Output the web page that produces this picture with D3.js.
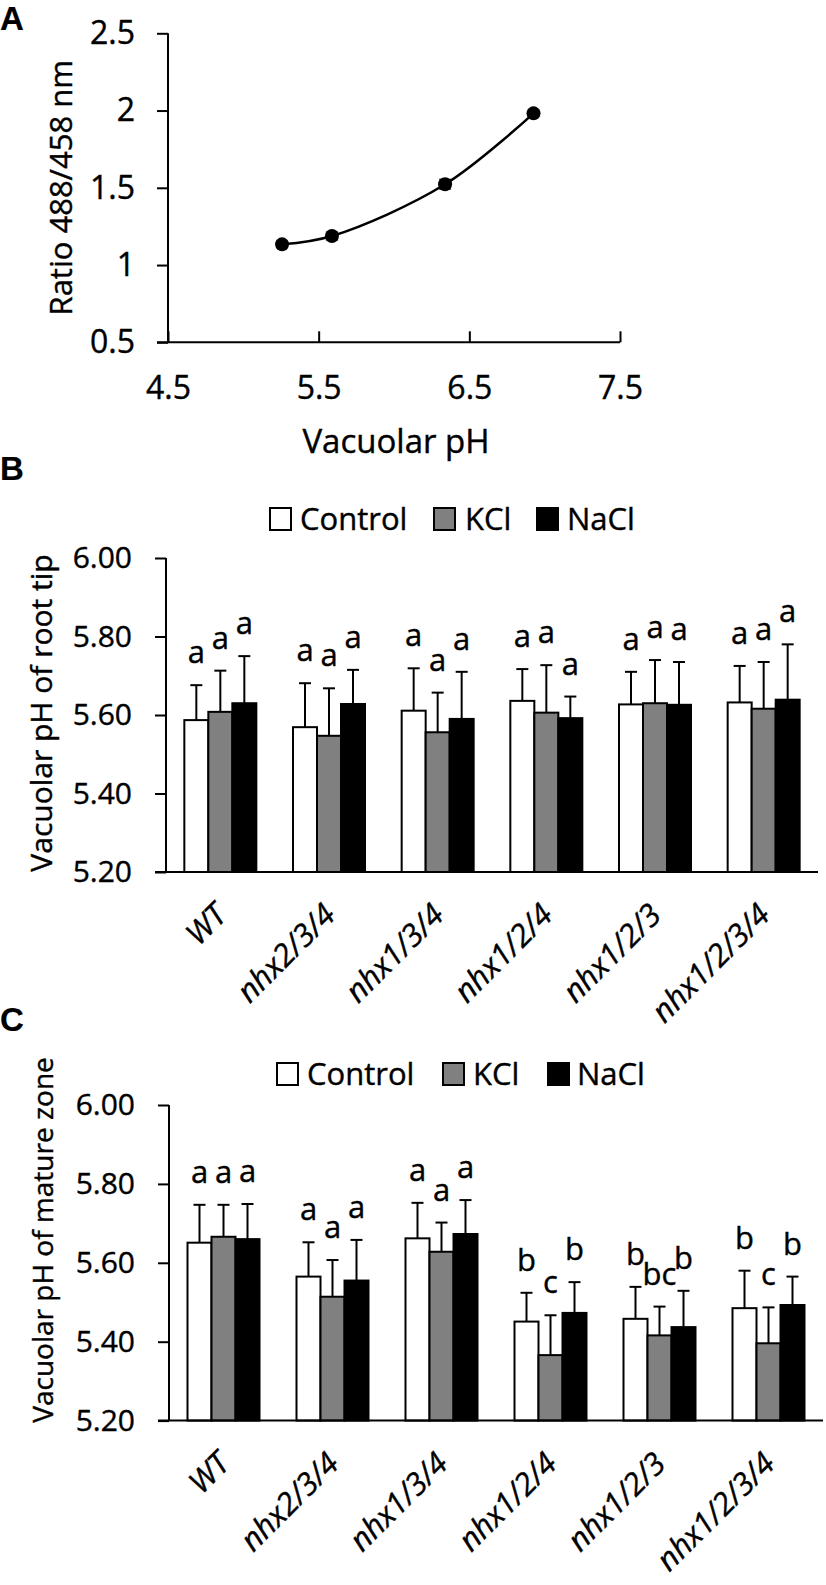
<!DOCTYPE html>
<html>
<head>
<meta charset="utf-8">
<script src="https://cdn.jsdelivr.net/npm/d3@7"></script>
<style>
  body { margin: 0; background: #fff; }
  svg text { font-family: "Open Sans", sans-serif; fill: #000; stroke: #000; stroke-width: 0.4px; }
  svg text.panel-label { font-family: "Liberation Sans", Arial, sans-serif; font-weight: bold; font-size: 33px; stroke-width: 0.2px; }
</style>
</head>
<body>
<svg id="fig" width="826" height="1585"></svg>
<script>
// ---- panel A: calibration curve
const calibPH = [5.257, 5.588, 6.339, 6.926];
const calibRatio = [1.134, 1.188, 1.523, 1.982];
const calibErr = [0.02, 0.025, 0.03, 0.02];
const calibXTicks = [4.5, 5.5, 6.5, 7.5];
const calibYTicks = [0.5, 1, 1.5, 2, 2.5];

// ---- panels B and C
const genotypes = ['WT', 'nhx2/3/4', 'nhx1/3/4', 'nhx1/2/4', 'nhx1/2/3', 'nhx1/2/3/4'];
const treatments = ['Control', 'KCl', 'NaCl'];
const treatColors = ['#ffffff', '#808080', '#000000'];
const phTicks = [5.2, 5.4, 5.6, 5.8, 6.0];

const tipControl = [5.587, 5.569, 5.611, 5.636, 5.627, 5.632];
const tipKCl     = [5.608, 5.547, 5.556, 5.606, 5.630, 5.616];
const tipNaCl    = [5.630, 5.628, 5.590, 5.592, 5.626, 5.639];
const tipControlSD = [0.089, 0.112, 0.108, 0.081, 0.083, 0.093];
const tipKClSD     = [0.105, 0.121, 0.101, 0.121, 0.110, 0.119];
const tipNaClSD    = [0.120, 0.087, 0.120, 0.055, 0.109, 0.141];
const tipControlSig = ['a', 'a', 'a', 'a', 'a', 'a'];
const tipKClSig     = ['a', 'a', 'a', 'a', 'a', 'a'];
const tipNaClSig    = ['a', 'a', 'a', 'a', 'a', 'a'];

const matControl = [5.651, 5.565, 5.662, 5.451, 5.458, 5.485];
const matKCl     = [5.666, 5.514, 5.628, 5.366, 5.416, 5.396];
const matNaCl    = [5.660, 5.555, 5.673, 5.473, 5.437, 5.493];
const matControlSD = [0.096, 0.087, 0.090, 0.073, 0.081, 0.095];
const matKClSD     = [0.081, 0.093, 0.074, 0.101, 0.073, 0.091];
const matNaClSD    = [0.089, 0.103, 0.086, 0.078, 0.092, 0.072];
const matControlSig = ['a', 'a', 'a', 'b', 'b', 'b'];
const matKClSig     = ['a', 'a', 'a', 'c', 'bc', 'c'];
const matNaClSig    = ['a', 'a', 'a', 'b', 'b', 'b'];

const svg = d3.select('#fig');
const FS = 30;

function styleAxis(fs) {
  return g => {
    g.selectAll('.domain').remove();
    g.selectAll('.tick line').attr('stroke', '#000').attr('stroke-width', 2);
    g.selectAll('.tick text').attr('font-size', fs).attr('font-family', '"Open Sans", sans-serif');
  };
}

function panelLabel(g, txt, y) {
  g.append('text').attr('class', 'panel-label').attr('x', 0).attr('y', y).text(txt);
}

// ================= A =================
(function drawA() {
  const x = d3.scaleLinear().domain([4.5, 7.5]).range([168, 620]);
  const y = d3.scaleLinear().domain([0.5, 2.5]).range([342.3, 33.3]);
  const g = svg.append('g');
  const fsA = 32;

  panelLabel(g, 'A', 30);

  g.append('g').attr('transform', `translate(${x(4.5)},0)`)
    .call(d3.axisLeft(y).tickValues(calibYTicks).tickSize(11).tickPadding(22).tickFormat(d => String(d)))
    .call(styleAxis(fsA));
  g.append('g').attr('transform', `translate(0,${y(0.5)})`)
    .call(d3.axisBottom(x).tickValues(calibXTicks).tickSize(-11).tickPadding(34).tickFormat(d => String(d)))
    .call(styleAxis(fsA));

  g.append('line').attr('x1', x(4.5)).attr('x2', x(4.5)).attr('y1', y(2.5)).attr('y2', y(0.5))
    .attr('stroke', '#000').attr('stroke-width', 2);
  g.append('line').attr('x1', x(4.5) - 11).attr('x2', x(7.5)).attr('y1', y(0.5)).attr('y2', y(0.5))
    .attr('stroke', '#000').attr('stroke-width', 2);

  g.append('text').attr('x', 396).attr('y', 453).attr('text-anchor', 'middle')
    .attr('font-size', 33).text('Vacuolar pH');
  g.append('text').attr('transform', `translate(72,${(y(2.5) + y(0.5)) / 2}) rotate(-90)`)
    .attr('text-anchor', 'middle').attr('font-size', 31).text('Ratio 488/458 nm');

  const pts = calibPH.map((p, i) => ({ x: p, y: calibRatio[i], e: calibErr[i] }));

  // small grey error bars
  const eb = g.append('g').attr('stroke', '#555').attr('stroke-width', 2);
  pts.forEach(d => {
    eb.append('line').attr('x1', x(d.x)).attr('x2', x(d.x)).attr('y1', y(d.y - d.e)).attr('y2', y(d.y + d.e));
    [d.y - d.e, d.y + d.e].forEach(v => eb.append('line')
      .attr('x1', x(d.x) - 6).attr('x2', x(d.x) + 6).attr('y1', y(v)).attr('y2', y(v)));
  });

  const line = d3.line().x(d => x(d.x)).y(d => y(d.y)).curve(d3.curveCatmullRom.alpha(0.5));
  g.append('path').datum(pts).attr('d', line).attr('fill', 'none')
    .attr('stroke', '#000').attr('stroke-width', 2.5);
  g.selectAll('circle.pt').data(pts).enter().append('circle')
    .attr('cx', d => x(d.x)).attr('cy', d => y(d.y)).attr('r', 7).attr('fill', '#000');
})();

// ================= bar panels =================
function drawBars(cfg) {
  const g = svg.append('g');
  const y = d3.scaleLinear().domain([5.2, 6.0]).range([cfg.y0, cfg.y1]);
  const x0 = d3.scaleBand().domain(genotypes).range([cfg.xL, cfg.xR]);
  const bw = 24;
  const x1 = d3.scaleBand().domain(treatments).range([-1.5 * bw, 1.5 * bw]);

  panelLabel(g, cfg.label, cfg.labelY);

  // legend
  treatments.forEach((t, i) => {
    g.append('rect').attr('x', cfg.legBox[i]).attr('y', cfg.legY - 22).attr('width', 21).attr('height', 22)
      .attr('fill', treatColors[i]).attr('stroke', '#000').attr('stroke-width', 2);
    g.append('text').attr('x', cfg.legText[i]).attr('y', cfg.legY).attr('font-size', 31).text(t);
  });

  // y axis
  g.append('g').attr('transform', `translate(${cfg.xL},0)`)
    .call(d3.axisLeft(y).tickValues(phTicks).tickSize(11).tickPadding(23).tickFormat(d3.format('.2f')))
    .call(styleAxis(FS));
  g.append('line').attr('x1', cfg.xL).attr('x2', cfg.xL).attr('y1', y(6.0)).attr('y2', y(5.2))
    .attr('stroke', '#000').attr('stroke-width', 2);

  g.append('text').attr('transform', `translate(${cfg.titleX},${cfg.titleY}) rotate(-90)`)
    .attr('text-anchor', 'middle').attr('font-size', cfg.titleFS).text(cfg.title);

  const rows = genotypes.map((gt, i) => treatments.map((t, j) => ({
    gt, t, color: treatColors[j],
    v: cfg.means[j][i], sd: cfg.sds[j][i], sig: cfg.sigs[j][i]
  })));

  const groups = g.selectAll('g.grp').data(rows).enter().append('g')
    .attr('transform', (d, i) => `translate(${x0(genotypes[i]) + x0.bandwidth() / 2},0)`);

  groups.each(function (row) {
    const gg = d3.select(this);
    row.forEach(d => {
      const cx = x1(d.t) + bw / 2;
      gg.append('line').attr('x1', cx).attr('x2', cx).attr('y1', y(d.v)).attr('y2', y(d.v + d.sd))
        .attr('stroke', '#000').attr('stroke-width', 2);
      gg.append('line').attr('x1', cx - 6).attr('x2', cx + 6).attr('y1', y(d.v + d.sd)).attr('y2', y(d.v + d.sd))
        .attr('stroke', '#000').attr('stroke-width', 2);
      gg.append('text').attr('x', cx).attr('y', y(d.v + d.sd) - 22).attr('text-anchor', 'middle')
        .attr('font-size', 31).text(d.sig);
    });
  });
  groups.selectAll('rect').data(d => d).enter().append('rect')
    .attr('x', d => x1(d.t)).attr('width', bw)
    .attr('y', d => y(d.v)).attr('height', d => y(5.2) - y(d.v))
    .attr('fill', d => d.color).attr('stroke', '#000').attr('stroke-width', 2);

  // x axis line
  g.append('line').attr('x1', cfg.xL - 11).attr('x2', cfg.xR).attr('y1', y(5.2)).attr('y2', y(5.2))
    .attr('stroke', '#000').attr('stroke-width', 2);

  // rotated genotype labels
  genotypes.forEach(gt => {
    const cx = x0(gt) + x0.bandwidth() / 2 + 8;
    g.append('text').attr('transform', `translate(${cx},${y(5.2) + 45}) rotate(-45)`)
      .attr('text-anchor', 'end').attr('font-size', 31).attr('font-style', 'italic').text(gt);
  });
}

drawBars({
  label: 'B', labelY: 480,
  y0: 872, y1: 558, xL: 166, xR: 818,
  legY: 530, legBox: [270, 434, 537], legText: [300, 465, 567],
  title: 'Vacuolar pH of root tip', titleX: 52, titleY: 713, titleFS: 30,
  means: [tipControl, tipKCl, tipNaCl],
  sds: [tipControlSD, tipKClSD, tipNaClSD],
  sigs: [tipControlSig, tipKClSig, tipNaClSig]
});

drawBars({
  label: 'C', labelY: 1031,
  y0: 1420.6, y1: 1105, xL: 169, xR: 823,
  legY: 1085, legBox: [277, 443, 548], legText: [307, 473, 577],
  title: 'Vacuolar pH of mature zone', titleX: 53, titleY: 1240, titleFS: 28,
  means: [matControl, matKCl, matNaCl],
  sds: [matControlSD, matKClSD, matNaClSD],
  sigs: [matControlSig, matKClSig, matNaClSig]
});
</script>
</body>
</html>
